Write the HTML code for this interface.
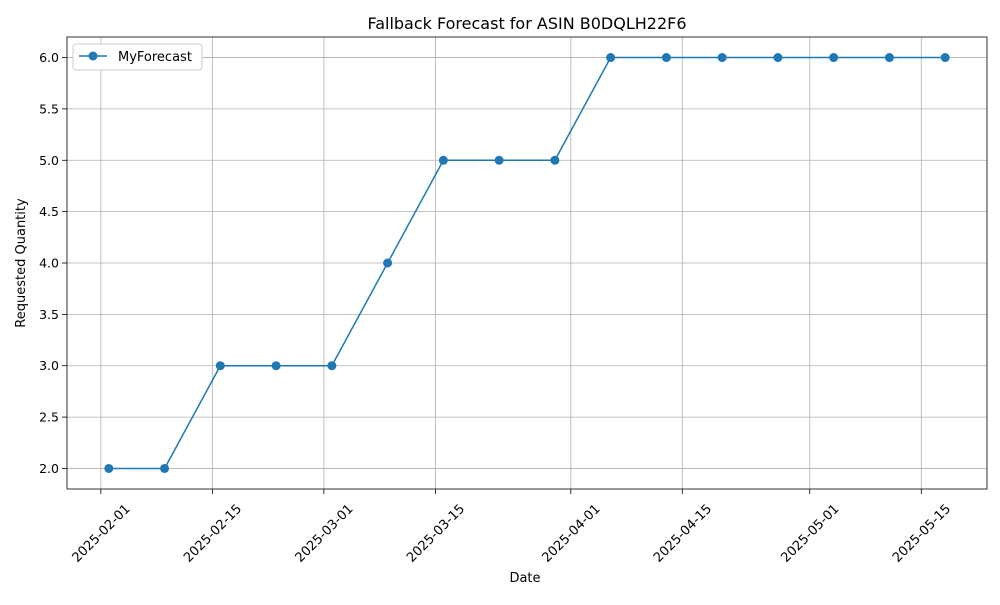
<!DOCTYPE html>
<html><head><meta charset="utf-8"><style>
body{margin:0;background:#fff}
text{font-family:"DejaVu Sans","Liberation Sans",sans-serif;fill:#000}
</style></head><body>
<svg id="chart" width="1000" height="600" xmlns="http://www.w3.org/2000/svg">
<rect width="1000" height="600" fill="#fff"/>
<text x="527" y="29" font-size="16" text-anchor="middle">Fallback Forecast for ASIN B0DQLH22F6</text>
<g id="grid"></g><g id="axes"></g><g id="series"></g>
<text x="525" y="582" font-size="13" text-anchor="middle">Date</text>
<text transform="translate(25,263) rotate(-90)" font-size="13" text-anchor="middle">Requested Quantity</text>
<g>
<rect x="73" y="44" width="129" height="26" rx="3" fill="#fff" stroke="#ccc"/>
<line x1="79" y1="56" x2="107" y2="56" stroke="#1f77b4" stroke-width="1.5"/>
<circle cx="93" cy="56" r="4.5" fill="#1f77b4"/>
<text x="118" y="61" font-size="13">MyForecast</text>
</g>
</svg>
<script>
const dates=["2025-02-02","2025-02-09","2025-02-16","2025-02-23","2025-03-02","2025-03-09","2025-03-16","2025-03-23","2025-03-30","2025-04-06","2025-04-13","2025-04-20","2025-04-27","2025-05-04","2025-05-11","2025-05-18"];
const values=[2,2,3,3,3,4,5,5,5,6,6,6,6,6,6,6];
const xTicks=["2025-02-01","2025-02-15","2025-03-01","2025-03-15","2025-04-01","2025-04-15","2025-05-01","2025-05-15"];
const yTicks=[2.0,2.5,3.0,3.5,4.0,4.5,5.0,5.5,6.0];
const NS="http://www.w3.org/2000/svg";
const L=67,R=987,T=37,B=489;
const day=s=>Date.parse(s+"T00:00:00Z")/864e5;
const d0=day(dates[0]),d1=day(dates[dates.length-1]),dp=(d1-d0)*0.05;
const x=s=>L+(day(s)-(d0-dp))/((d1+dp)-(d0-dp))*(R-L);
const vmin=Math.min(...values),vmax=Math.max(...values),vp=(vmax-vmin)*0.05;
const y=v=>B-(v-(vmin-vp))/((vmax+vp)-(vmin-vp))*(B-T);
function mk(tag,attrs,parent){const e=document.createElementNS(NS,tag);for(const k in attrs)e.setAttribute(k,attrs[k]);parent.appendChild(e);return e;}
const grid=document.getElementById('grid'),axes=document.getElementById('axes'),ser=document.getElementById('series');
xTicks.forEach(t=>{const px=x(t);
const g=mk('line',{x1:px,x2:px,y1:T,y2:B,stroke:'#b0b0b0','stroke-width':0.8},grid);


mk('line',{x1:px,x2:px,y1:B,y2:B+5,stroke:'#000','stroke-width':0.8},axes);
const cy=B+44;
const tx=mk('text',{x:px,y:cy+4.5,'font-size':13,'text-anchor':'middle',transform:`rotate(-45 ${px} ${cy})`},axes);
tx.textContent=t;


});
yTicks.forEach(t=>{const py=y(t);
const g=mk('line',{x1:L,x2:R,y1:py,y2:py,stroke:'#b0b0b0','stroke-width':0.8},grid);


mk('line',{x1:L-5,x2:L,y1:py,y2:py,stroke:'#000','stroke-width':0.8},axes);
const tx=mk('text',{x:L-8,y:py+4.5,'font-size':12.5,'text-anchor':'end'},axes);
tx.textContent=t.toFixed(1);


});
const frame=mk('rect',{x:L,y:T,width:R-L,height:B-T,fill:'none',stroke:'#000','stroke-width':0.8},axes);


const line=mk('polyline',{points:dates.map((d,i)=>x(d)+','+y(values[i])).join(' '),fill:'none',stroke:'#1f77b4','stroke-width':1.5},ser);


dates.forEach((d,i)=>{const c=mk('circle',{cx:x(d),cy:y(values[i]),r:4.5,fill:'#1f77b4'},ser);

});
</script>
</body></html>
